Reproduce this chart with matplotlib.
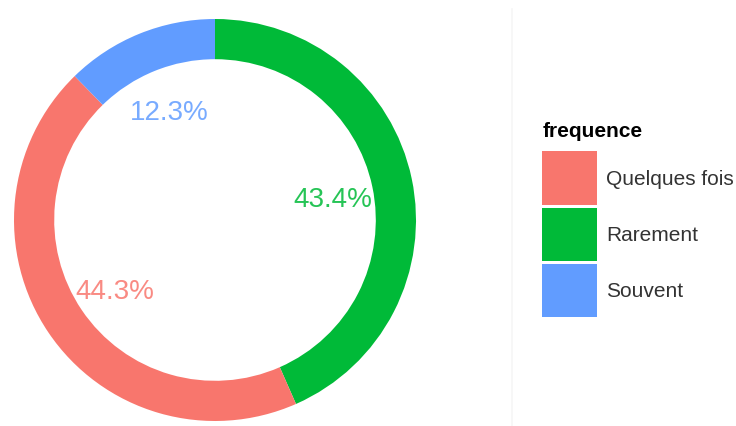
import matplotlib
matplotlib.use("Agg")
import matplotlib.pyplot as plt
import numpy as np
from matplotlib.patches import Patch
from matplotlib.lines import Line2D

plt.rcParams['font.family'] = ['Liberation Sans', 'DejaVu Sans']

# Données (ordre de tracé : sens horaire depuis midi)
categories = ["Rarement", "Quelques fois", "Souvent"]
pourcentages = [43.4, 44.3, 12.3]
couleurs = ["#00BA38", "#F8766D", "#619CFF"]

# Ordre de la légende
legende_categories = ["Quelques fois", "Rarement", "Souvent"]
legende_couleurs = ["#F8766D", "#00BA38", "#619CFF"]

fig = plt.figure(figsize=(7.36, 4.27), dpi=100)
ax = fig.add_axes([14 / 736, 5 / 427, 402 / 736, 402 / 427])

wedges, _ = ax.pie(pourcentages, colors=couleurs, startangle=90, counterclock=False,
                   radius=1.0, wedgeprops=dict(width=0.2, linewidth=0))

# Étiquettes au milieu de chaque secteur
cumul = np.cumsum(pourcentages) - np.array(pourcentages) / 2
for val, mid, col in zip(pourcentages, cumul, couleurs):
    ang = np.radians(90 - mid / 100 * 360)
    ax.text(0.6 * np.cos(ang), 0.6 * np.sin(ang) - 0.02, f"{val:.1f}%", color=col, alpha=0.85,
            fontsize=20, ha="center", va="center")

ax.set_xlim(-1, 1)
ax.set_ylim(-1, 1)
ax.set_aspect("equal")
ax.axis("off")

# Séparateur léger
fig.add_artist(Line2D([512 / 736, 512 / 736], [0, 417 / 427], transform=fig.transFigure,
                      color="#f6f6f6", linewidth=1.2))

handles = [Patch(facecolor=c, edgecolor="none") for c in legende_couleurs]
leg = fig.legend(handles, legende_categories, loc="upper left",
                 bbox_to_anchor=(534 / 736, 1 - 114 / 427), frameon=False,
                 title="frequence", title_fontproperties={"weight": "bold", "size": 15},
                 fontsize=15, handlelength=2.6, handleheight=3.55, labelspacing=0.15,
                 handletextpad=0.45, alignment="left", borderaxespad=0)
leg._legend_box.sep = 8  # espace titre / clés
for t in leg.get_texts():
    t.set_color("#333333")

fig.savefig("out.png", dpi=100, facecolor="white")
